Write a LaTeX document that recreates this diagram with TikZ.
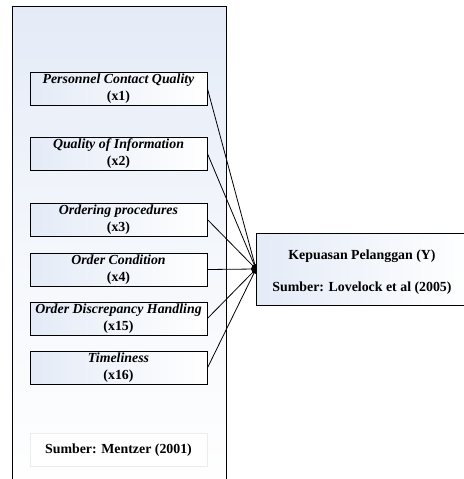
\documentclass[tikz,border=0pt]{standalone}
\usepackage{fontspec}
\setmainfont{Liberation Serif}
\definecolor{paleblue}{RGB}{228,235,247}
\begin{document}
\begin{tikzpicture}[x=0.75pt,y=-0.75pt,
  var/.style={draw,line width=0.6pt,left color=paleblue,right color=white,
    minimum width=132.75pt,minimum height=24.75pt,inner sep=0pt,align=center,
    font=\fontsize{10.4}{12.8}\selectfont\bfseries},
  src/.style={font=\fontsize{10.4}{12.8}\selectfont\bfseries}]
\useasboundingbox (0,0) rectangle (464,479);
% outer frame, bottom runs off the page
\shade[top color=paleblue,bottom color=white,middle color=white!60!paleblue]
  (12,6) rectangle (226,500);
\draw[line width=0.6pt] (12,500)--(12,6)--(226,6)--(226,500);
% indicators
\node[var] (x1) at (118.5,88.5) {\textit{Personnel Contact Quality}\\(x1)};
\node[var] (x2) at (118.5,153.5) {\textit{Quality of Information}\\(x2)};
\node[var] (x3) at (118.5,219.5) {\textit{Ordering procedures}\\(x3)};
\node[var] (x4) at (118.5,269.5) {\textit{Order Condition}\\(x4)};
\node[var] (x5) at (118.5,318.5) {\textit{Order Discrepancy Handling}\\(x15)};
\node[var] (x6) at (118.5,368) {\textit{Timeliness}\\(x16)};
\node[src,draw=gray!15,fill=white,minimum width=132.75pt,minimum height=25pt]
  (mz) at (118.5,450) {Sumber: Mentzer (2001)};
% dependent variable
\shade[left color=paleblue,right color=white] (256,233) rectangle (470,305);
\draw[line width=0.6pt] (256,233) rectangle (470,305);
\coordinate (kp) at (256,269);
\node[src,align=center] (y) at (362,272.5) {Kepuasan Pelanggan (Y)\\[11pt]Sumber: Lovelock et al (2005)};
\foreach \i in {1,...,6}
  \draw[line width=0.6pt] (x\i.east)--(kp);
\fill (kp) ++(0,5) arc[start angle=90,end angle=270,radius=5] --cycle;
\end{tikzpicture}
\end{document}
